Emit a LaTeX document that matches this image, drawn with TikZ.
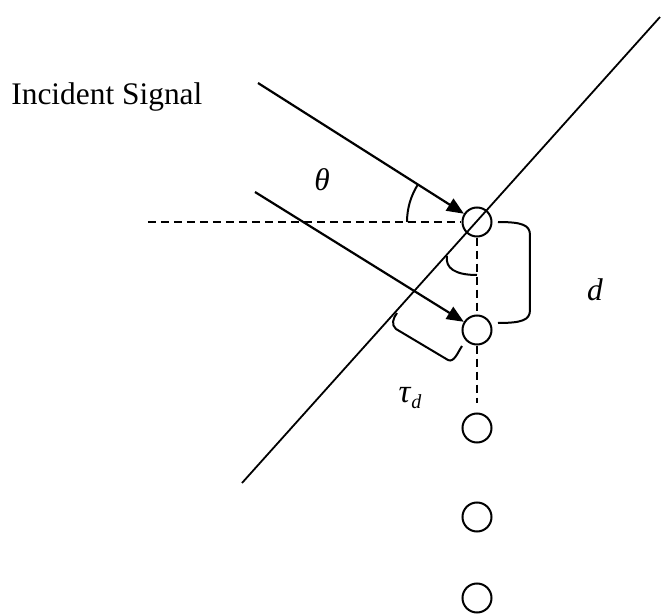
\documentclass[tikz,border=0pt]{standalone}
\usepackage{fontspec}
\setmainfont{Liberation Serif}
\usetikzlibrary{arrows.meta}

\tikzset{
  elem/.style={draw, circle, minimum size=14.5pt, inner sep=0pt, line width=1pt},
  sig/.style={line width=1.1pt, -{Triangle[length=8.5pt, width=7pt]}},
  guide/.style={line width=0.9pt, dash pattern=on 4pt off 2.5pt},
  bend line/.style={line width=1pt},
  lbl/.style={font=\fontsize{15.7}{18}\selectfont, inner sep=0pt}
}

\begin{document}
\begin{tikzpicture}[x=0.5pt, y=-0.5pt]
  \useasboundingbox (0,0) rectangle (661,616);
  % array elements
  \node[elem] (e1) at (477,222) {};
  \node[elem] (e2) at (477,330) {};
  \node[elem] (e3) at (477,428) {};
  \node[elem] (e4) at (477,517) {};
  \node[elem] (e5) at (477,598) {};
  \coordinate (w1) at (242,483);
  \coordinate (w2) at (660,17);
  \coordinate (s1) at (258,83);
  \coordinate (s2) at (255,192);
  \coordinate (h1) at (148,222);
  \coordinate (v1) at (477,403);
  % wavefront and guides
  \draw[line width=0.9pt] (w1) -- (w2);
  \draw[guide] (h1) -- (e1.west);
  \draw[guide] (e1.south) -- (e2.north);
  \draw[guide] (e2.south) -- (v1);
  % incident rays
  \draw[sig] (s1) -- (e1);
  \draw[sig] (s2) -- (e2);
  % angles
  \draw[bend line] ([shift={(180:35pt)}]e1.center) arc[start angle=180, end angle=147.5, radius=35pt];
  \draw[bend line] (447,256) .. controls (445,268) and (455,275) .. (477,275);
  % spacing brace
  \draw[bend line] (498,222) .. controls (522,222) and (530,225) .. (530,235)
    -- (530,310) .. controls (530,320) and (522,323) .. (498,323);
  % delay bracket
  \draw[bend line] (397,313) .. controls (393,318) and (391,325) .. (396,329)
    -- (448,360) .. controls (454,363) and (458,352) .. (462,346);
  % labels
  \node[lbl, anchor=base west] (sig) at (11,104) {Incident Signal};
  \node[lbl] (th) at (322,180) {\textit{θ}};
  \node[lbl] (dd) at (595,290) {\textit{d}};
  \node[lbl] (tau) at (410,398) {\fontsize{16.5}{18}\selectfont\textit{τ}\raisebox{-0.45ex}{\fontsize{10}{11}\selectfont\textit{d}}};
\end{tikzpicture}
\end{document}
